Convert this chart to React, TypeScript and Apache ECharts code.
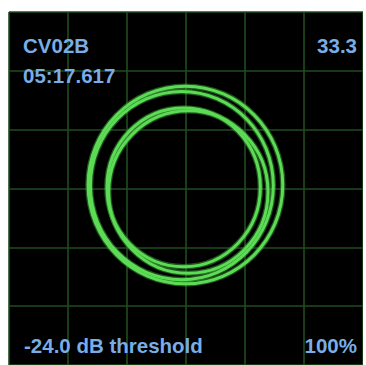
import React, { useEffect, useRef } from "react";
import * as echarts from "echarts";

// Ring (trace) parameters in scope divisions
const ringCenterX = [-0.01, -0.07, -0.04, 0.04];
const ringCenterY = [0.06, 0.05, 0.02, -0.06];
const ringRadiusX = [1.65, 1.55, 1.3, 1.35];
const ringRadiusY = [1.68, 1.6, 1.35, 1.38];

const axisMin = -3;
const axisMax = 3;
const axisStep = 1;

const labelTopLeft = ["CV02B", "05:17.617"];
const labelTopRight = "33.3";
const labelBottomLeft = "-24.0 dB threshold";
const labelBottomRight = "100%";

export default function App() {
  const ref = useRef<HTMLDivElement>(null);
  useEffect(() => {
    if (!ref.current) return;
    const chart = echarts.init(ref.current, undefined, { renderer: "svg" });
    const data = ringCenterX.map((cx, i) => [cx, ringCenterY[i], ringRadiusX[i], ringRadiusY[i]]);
    const textColor = "#78ade6";
    const font = { fontFamily: "Liberation Sans, Arial, sans-serif", fontWeight: "bold" as const, fontSize: 20.5 };
    const gridLine = { show: true, lineStyle: { color: "#1f4d1f", width: 1.6 } };
    const ringRender = (width: number, color: string, opacity: number) => (params: any, api: any) => {
      const c = api.coord([api.value(0), api.value(1)]);
      const s = api.size([api.value(2), api.value(3)]);
      return {
        type: "ellipse",
        shape: { cx: c[0], cy: c[1], rx: s[0], ry: s[1] },
        style: { fill: "none", stroke: color, lineWidth: width, opacity },
      };
    };
    chart.setOption({
      animation: false,
      backgroundColor: "#ffffff",
      grid: {
        left: 9,
        top: 12,
        width: 361,
        height: 361,
        show: true,
        backgroundColor: "#000000",
        borderWidth: 0,
      },
      xAxis: {
        type: "value",
        min: axisMin,
        max: axisMax,
        interval: axisStep,
        axisLine: { show: false },
        axisTick: { show: false },
        axisLabel: { show: false },
        splitLine: gridLine,
      },
      yAxis: {
        type: "value",
        min: axisMin,
        max: axisMax,
        interval: axisStep,
        axisLine: { show: false },
        axisTick: { show: false },
        axisLabel: { show: false },
        splitLine: gridLine,
      },
      series: [
        {
          type: "custom",
          data,
          encode: { x: 0, y: 1 },
          clip: false,
          renderItem: ringRender(5.5, "#3fae3c", 0.5),
          z: 3,
        },
        {
          type: "custom",
          data,
          encode: { x: 0, y: 1 },
          clip: false,
          renderItem: ringRender(3, "#5cdc55", 1),
          z: 4,
        },
      ],
      graphic: [
        { type: "text", x: 23, y: 45, z: 10, style: { text: labelTopLeft[0], fill: textColor, ...font, verticalAlign: "middle", align: "left" } },
        { type: "text", x: 23, y: 75, z: 10, style: { text: labelTopLeft[1], fill: textColor, ...font, verticalAlign: "middle", align: "left" } },
        { type: "text", x: 357, y: 45, z: 10, style: { text: labelTopRight, fill: textColor, ...font, verticalAlign: "middle", align: "right" } },
        { type: "text", x: 24, y: 345, z: 10, style: { text: labelBottomLeft, fill: textColor, ...font, verticalAlign: "middle", align: "left" } },
        { type: "text", x: 357, y: 345, z: 10, style: { text: labelBottomRight, fill: textColor, ...font, verticalAlign: "middle", align: "right" } },
      ],
    });
    return () => chart.dispose();
  }, []);
  return (
    <div style={{ position: "absolute", left: 0, top: 0, width: 366, height: 365, background: "#fff" }}>
      <div ref={ref} style={{ width: 363, height: 365, overflow: "hidden" }} />
    </div>
  );
}
